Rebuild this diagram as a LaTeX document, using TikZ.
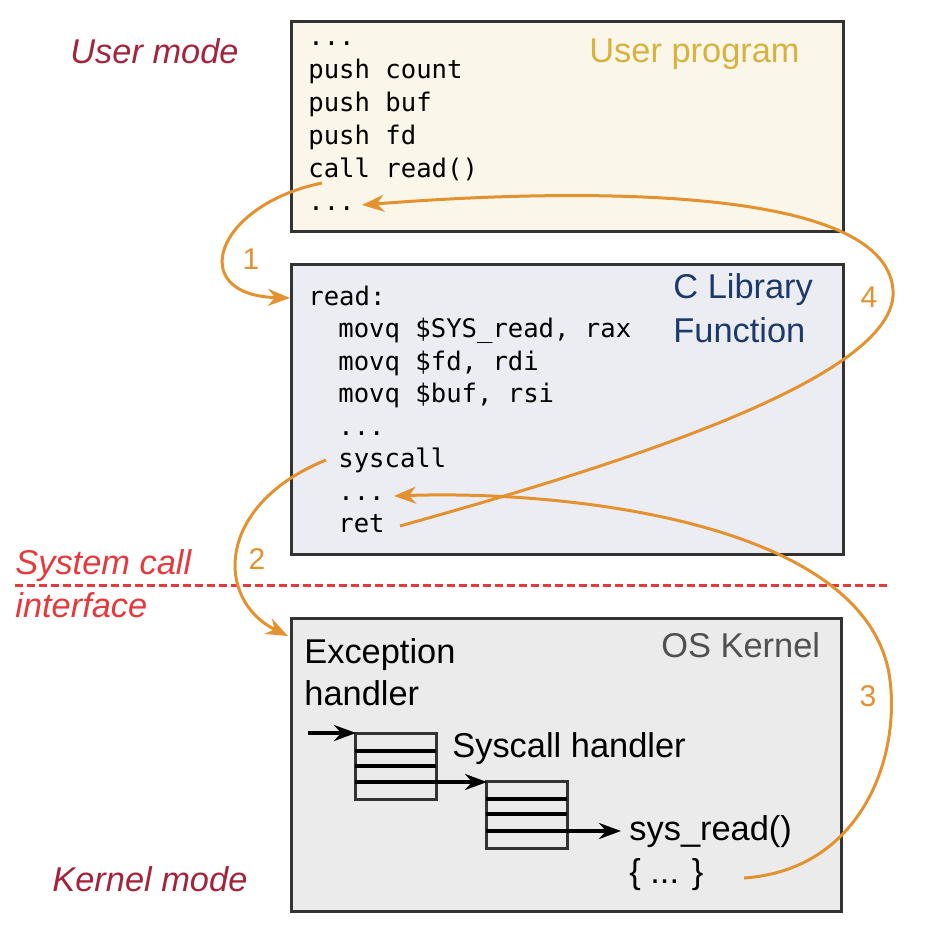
\documentclass[tikz,border=0pt]{standalone}
\usepackage{fontspec}
\setmainfont{Liberation Sans}
\setmonofont{DejaVu Sans Mono}
\usetikzlibrary{arrows.meta}
\definecolor{boxline}{HTML}{333333}
\definecolor{userbg}{HTML}{FAF7EA}
\definecolor{libbg}{HTML}{ECEDF3}
\definecolor{kernbg}{HTML}{EBEBEB}
\definecolor{flow}{HTML}{E3922F}
\definecolor{modered}{HTML}{A3243B}
\definecolor{ifred}{HTML}{E5393B}
\definecolor{usergold}{HTML}{D8B13F}
\definecolor{libnavy}{HTML}{1B3A6B}
\definecolor{kerngray}{HTML}{505050}
\tikzset{
  panel/.style={draw=boxline, line width=1.5pt},
  code/.style={anchor=base west, inner sep=0pt, font=\ttfamily\fontsize{12.8}{15}\selectfont},
  label/.style={anchor=base west, inner sep=0pt, font=\fontsize{17.2}{21}\selectfont},
  mode/.style={label, font=\itshape\fontsize{17.2}{21}\selectfont},
  stepno/.style={inner sep=0pt, text=flow, font=\fontsize{15}{18}\selectfont},
  flowline/.style={draw=flow, line width=1.5pt, -{Stealth[length=11pt,width=8.5pt,inset=3.5pt]}},
  tbl/.style={draw=boxline, line width=1.5pt},
  tblrow/.style={black, line width=1.8pt},
  karrow/.style={black, line width=1.6pt, -{Stealth[length=11pt,width=8pt,inset=3.5pt]}}
}
\begin{document}
\begin{tikzpicture}[x=0.5pt,y=-0.5pt]
  \useasboundingbox (0,0) rectangle (932,948);

  % the three layers
  \draw[panel, fill=userbg] (291,21) rectangle (843,231);
  \draw[panel, fill=libbg] (291,264) rectangle (843,554);
  \draw[panel, fill=kernbg] (291,618) rectangle (841,911);

  % system call interface
  \draw[ifred, line width=1.5pt, dash pattern=on 4pt off 2pt] (15,585) -- (888,585);
  \node[mode, text=modered] (umode) at (70,63) {User mode};
  \node[mode, text=ifred] (sci1) at (15,574) {System call};
  \node[mode, text=ifred] (sci2) at (15,617) {interface};
  \node[mode, text=modered] (kmode) at (52,891) {Kernel mode};

  % user program
  \node[label, text=usergold] (utitle) at (589,62) {User program};
  \node[code] (u0) at (308,45) {...};
  \node[code] (u1) at (308,78) {push count};
  \node[code] (u2) at (308,111) {push buf};
  \node[code] (u3) at (308,144) {push fd};
  \node[code] (u4) at (308,177) {call read()};
  \node[code] (u5) at (308,210) {...};

  % C library
  \node[label, text=libnavy] (ltitle1) at (673,298) {C Library};
  \node[label, text=libnavy] (ltitle2) at (673,342) {Function};
  \node[code] (l0) at (308,305) {read:};
  \node[code] (l1) at (338,337.5) {movq \$SYS\_read, rax};
  \node[code] (l2) at (338,370) {movq \$fd, rdi};
  \node[code] (l3) at (338,402.5) {movq \$buf, rsi};
  \node[code] (l4) at (338,435) {...};
  \node[code] (l5) at (338,467.5) {syscall};
  \node[code] (l6) at (338,500) {...};
  \node[code] (l7) at (338,532.5) {ret};

  % kernel
  \node[label, text=kerngray] (ktitle) at (661,657) {OS Kernel};
  \node[label] (exc1) at (304,663) {Exception};
  \node[label] (exc2) at (304,705) {handler};
  \node[label] (sysh) at (452,757) {Syscall handler};
  \node[label] (sread) at (629,840) {sys\_read()};
  \node[label] (sbody) at (629,883) {\{ ... \}};

  % dispatch tables
  \draw[tbl] (355,733) rectangle (436,799);
  \foreach \y in {751,766,782} \draw[tblrow] (355,\y) -- (436,\y);
  \draw[tbl] (486,781) rectangle (567,848);
  \foreach \y in {799,814,831} \draw[tblrow] (486,\y) -- (567,\y);

  \coordinate (kin) at (308,733);
  \coordinate (tabA) at (356,733);
  \coordinate (tabAout) at (436,782);
  \coordinate (tabB) at (487,782);
  \coordinate (tabBout) at (567,831);
  \coordinate (sreadin) at (621,831);
  \draw[karrow] (kin) -- (tabA);
  \draw[karrow] (tabAout) -- (tabB);
  \draw[karrow] (tabBout) -- (sreadin);

  % control flow
  \coordinate (callout) at (322,183);
  \coordinate (readin) at (290,298);
  \coordinate (sysout) at (326,460);
  \coordinate (kernin) at (288,636);
  \coordinate (bodyout) at (744,878);
  \coordinate (retin) at (394,496);
  \coordinate (retout) at (400,526);
  \coordinate (userin) at (362,205);

  \draw[flowline] (callout) .. controls (215,205) and (185,295) .. (readin);
  \draw[flowline] (sysout) .. controls (215,505) and (215,600) .. (kernin);
  \draw[flowline] (bodyout) .. controls (860,870) and (900,760) .. (890,680)
    .. controls (870,520) and (560,490) .. (retin);
  \draw[flowline] (retout) .. controls (600,470) and (900,380) .. (893,290)
    .. controls (885,180) and (550,190) .. (userin);

  \node[stepno] (n1) at (251,259) {1};
  \node[stepno] (n2) at (257,559) {2};
  \node[stepno] (n3) at (868,696) {3};
  \node[stepno] (n4) at (869,297) {4};
\end{tikzpicture}
\end{document}
